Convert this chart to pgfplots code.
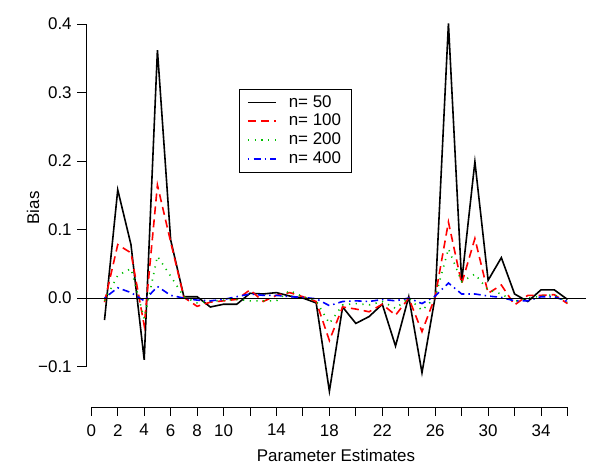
\documentclass[border=0pt]{standalone}
\usepackage{pgfplots}
\usepackage{pgfplotstable}
\pgfplotsset{compat=1.18}
\usepackage{fontspec}
\setmainfont{Liberation Sans}

\pgfplotstableread{
x   a      b      c      d
1  -0.032 -0.006 -0.004  0.000
2   0.158  0.078  0.033  0.015
3   0.078  0.066  0.043  0.008
4  -0.090 -0.040 -0.030 -0.004
5   0.362  0.165  0.061  0.017
6   0.085  0.082  0.032  0.004
7   0.002  0.001  0.002  0.000
8   0.002 -0.012 -0.007 -0.003
9  -0.013 -0.006 -0.005 -0.004
10 -0.009 -0.004 -0.003 -0.002
11 -0.009 -0.002 -0.002  0.002
12  0.007  0.012 -0.004  0.006
13  0.006 -0.005 -0.004  0.004
14  0.008  0.004 -0.004  0.004
15  0.003  0.008  0.011  0.002
16  0.000  0.002  0.002  0.001
17 -0.007 -0.005 -0.004 -0.001
18 -0.136 -0.062 -0.037 -0.011
19 -0.013 -0.013 -0.010 -0.005
20 -0.037 -0.016 -0.008 -0.004
21 -0.027 -0.020 -0.010 -0.005
22 -0.009 -0.009 -0.005 -0.002
23 -0.070 -0.025 -0.015 -0.004
24  0.002  0.000  0.000  0.000
25 -0.109 -0.049 -0.018 -0.008
26  0.002  0.002  0.001  0.003
27  0.401  0.111  0.072  0.022
28  0.024  0.021  0.024  0.006
29  0.199  0.087  0.035  0.006
30  0.026  0.007  0.012  0.003
31  0.059  0.019  0.006  0.001
32  0.006 -0.010 -0.005 -0.004
33 -0.005  0.004  0.000 -0.004
34  0.012  0.004  0.003  0.002
35  0.012  0.005  0.005  0.002
36 -0.002 -0.008 -0.006 -0.005
}\bias

\definecolor{rgreen}{rgb}{0,0.75,0}

\begin{document}
\fontsize{17}{19.5}\selectfont
\begin{tikzpicture}
\path[use as bounding box] (-86bp,-61bp) rectangle (514bp,407bp);
\begin{axis}[
  at={(0,0)}, anchor=south west,
  scale only axis, width=500bp, height=398bp,
  xmin=-0.4, xmax=37.4, ymin=-0.159, ymax=0.422,
  clip=false,
  axis x line*=bottom, axis y line*=left,
  axis line style={draw=none},
  tick align=outside, major tick length=8.5bp,
  tick style={black, line width=0.9bp},
  xtick={0,2,...,36},
  xticklabels={0,2,4,6,8,10,,14,,18,,22,,26,,30,,34,},
  ytick={-0.1,0,0.1,0.2,0.3,0.4},
  yticklabels={−0.1,0.0,0.1,0.2,0.3,0.4},
  xticklabel style={yshift=-3bp},
  xlabel={Parameter Estimates},
  ylabel={Bias},
  xlabel style={at={(axis description cs:0.5,-0.122)}, anchor=center},
  ylabel style={at={(axis description cs:-0.106,0.5)}, anchor=center},
  legend style={at={(0.306,0.799)}, anchor=north west, draw=black,
     inner xsep=8bp, inner ysep=4bp,
     font=\fontsize{17}{18}\selectfont, row sep=0.5bp,
     /tikz/every odd column/.append style={column sep=10bp}},
  legend cell align=left,
  legend image code/.code={\draw[line width=1.6bp,#1] (0bp,0bp) -- (28bp,0bp);},
]
\addplot[color=black, line width=1.6bp] table[x=x,y=a] {\bias};
\addlegendentry{n= 50}
\addplot[color=red, line width=1.6bp, dash pattern=on 8bp off 5bp] table[x=x,y=b] {\bias};
\addlegendentry{n= 100}
\addplot[color=rgreen, line width=1.6bp, dash pattern=on 1.2bp off 5.5bp] table[x=x,y=c] {\bias};
\addlegendentry{n= 200}
\addplot[color=blue, line width=1.6bp, dash pattern=on 1.5bp off 4bp on 7bp off 4bp] table[x=x,y=d] {\bias};
\addlegendentry{n= 400}
\addplot[black, line width=0.9bp, forget plot] coordinates {(-0.4,0) (37.4,0)};
\addplot[black, line width=0.9bp, forget plot] coordinates {(0,-0.159) (36,-0.159)};
\addplot[black, line width=0.9bp, forget plot] coordinates {(-0.4,-0.1) (-0.4,0.4)};
\end{axis}
\end{tikzpicture}
\end{document}
